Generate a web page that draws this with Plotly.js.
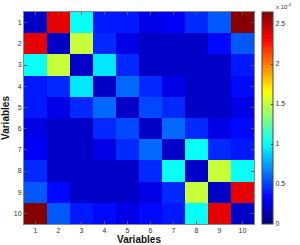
<!DOCTYPE html>
<html>
<head>
<meta charset="utf-8">
<script src="https://cdn.plot.ly/plotly-3.0.1.min.js"></script>
<style>html,body{margin:0;padding:0;background:#fff;}#chart{width:300px;height:245px;}</style>
</head>
<body>
<div id="chart"></div>
<script>
// Variables (rows / columns)
const variables = [1, 2, 3, 4, 5, 6, 7, 8, 9, 10];
// Matrix values in units of 1e-4
const row1  = [0.18, 2.40, 1.00, 0.40, 0.40, 0.28, 0.33, 0.44, 0.55, 2.65];
const row2  = [2.40, 0.18, 1.52, 0.45, 0.28, 0.18, 0.18, 0.18, 0.34, 0.55];
const row3  = [1.00, 1.52, 0.18, 0.95, 0.45, 0.18, 0.18, 0.18, 0.18, 0.40];
const row4  = [0.40, 0.45, 0.95, 0.18, 0.62, 0.42, 0.28, 0.18, 0.18, 0.34];
const row5  = [0.40, 0.28, 0.45, 0.62, 0.18, 0.52, 0.43, 0.18, 0.18, 0.28];
const row6  = [0.28, 0.18, 0.18, 0.42, 0.52, 0.18, 0.62, 0.45, 0.28, 0.36];
const row7  = [0.33, 0.18, 0.18, 0.28, 0.43, 0.62, 0.18, 1.00, 0.45, 0.40];
const row8  = [0.44, 0.18, 0.18, 0.18, 0.18, 0.45, 1.00, 0.18, 1.52, 1.00];
const row9  = [0.55, 0.34, 0.18, 0.18, 0.18, 0.28, 0.45, 1.52, 0.18, 2.40];
const row10 = [2.65, 0.55, 0.40, 0.34, 0.28, 0.36, 0.40, 1.00, 2.40, 0.18];
const colorbarTicks = [0, 0.5, 1, 1.5, 2, 2.5];
const colorMax = 2.65;

const z = [row1, row2, row3, row4, row5, row6, row7, row8, row9, row10];

// MATLAB-style 64-level jet colormap
function clamp(v){ return Math.max(0, Math.min(1, v)); }
const nLevels = 64;
const jetScale = [];
for (let k = 0; k < nLevels; k++) {
  const x = (k + 0.5) / nLevels;
  const r = Math.round(255 * clamp(1.5 - Math.abs(4 * x - 3)));
  const g = Math.round(255 * clamp(1.5 - Math.abs(4 * x - 2)));
  const b = Math.round(255 * clamp(1.5 - Math.abs(4 * x - 1)));
  const c = 'rgb(' + r + ',' + g + ',' + b + ')';
  jetScale.push([k / nLevels, c]);
  jetScale.push([(k + 1) / nLevels, c]);
}

const font = 'Liberation Sans, Arial, sans-serif';
const trace = {
  type: 'heatmap',
  x: variables,
  y: variables,
  z: z,
  zmin: 0,
  zmax: colorMax,
  colorscale: jetScale,
  xgap: 0, ygap: 0,
  hoverinfo: 'skip',
  colorbar: {
    x: (270 - 24) / 238, xanchor: 'left', xpad: 0,
    y: 0.5, yanchor: 'middle', ypad: 0,
    len: 1, lenmode: 'fraction',
    thickness: 11, thicknessmode: 'pixels',
    outlinewidth: 1, outlinecolor: '#444',
    tickmode: 'array', tickvals: colorbarTicks,
    ticktext: colorbarTicks.map(String),
    ticks: 'inside', ticklen: 2, tickcolor: '#444',
    tickfont: {family: font, size: 7, color: '#333'}
  }
};

const axisCommon = {
  showgrid: false, zeroline: false,
  showline: true, mirror: 'ticks', linecolor: '#888', linewidth: 1,
  ticks: 'inside', ticklen: 3, tickcolor: '#555',
  tickmode: 'array', tickvals: variables, ticktext: variables.map(String),
  tickfont: {family: font, size: 7, color: '#333'},
  fixedrange: true
};

const layout = {
  width: 300, height: 245,
  margin: {l: 24, r: 38, t: 12, b: 21},
  paper_bgcolor: '#fff', plot_bgcolor: '#fff',
  xaxis: Object.assign({}, axisCommon, {
    range: [0.5, 10.5],
    title: {text: '<b>Variables</b>', font: {family: font, size: 10, color: '#111'}, standoff: 0}
  }),
  yaxis: Object.assign({}, axisCommon, {
    range: [10.5, 0.5],
    title: {text: '<b>Variables</b>', font: {family: font, size: 10, color: '#111'}, standoff: 3}
  }),
  annotations: [{
    text: 'x 10<sup>-4</sup>', xref: 'paper', yref: 'paper',
    x: (283 - 24) / 238, y: 1, xanchor: 'left', yanchor: 'bottom',
    showarrow: false, font: {family: font, size: 6, color: '#333'}
  }],
  showlegend: false
};

Plotly.newPlot('chart', [trace], layout, {displayModeBar: false, staticPlot: true});
</script>
</body>
</html>
